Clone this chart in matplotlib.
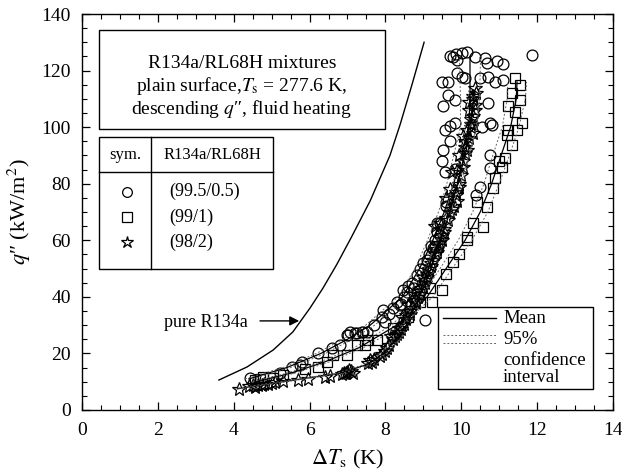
import numpy as np
import matplotlib
matplotlib.use("Agg")
import matplotlib.pyplot as plt
from matplotlib.patches import Rectangle
from matplotlib.lines import Line2D

plt.rcParams['font.family'] = ['Liberation Serif', 'DejaVu Serif']
plt.rcParams['mathtext.fontset'] = 'stix'

# pure R134a curve
pure_x = [3.61, 4.35, 5.04, 5.56, 6.01, 6.35, 6.72, 7.10, 7.60, 8.12, 8.39, 8.70, 9.02]
pure_q = [10.6, 15.2, 21.2, 27.6, 36.0, 43.0, 51.5, 61.0, 74.0, 90.0, 101.0, 115.0, 130.0]

# (99.5/0.5) circles
circ_x = [9.78, 9.89, 10.02, 10.15, 10.36, 10.62, 10.68, 10.94, 11.10, 11.86, 9.70, 9.85,
          9.49, 9.65, 9.89, 10.02, 10.10, 10.49, 10.70, 10.89, 11.10,
          9.65, 9.83, 9.52, 10.70,
          9.57, 9.83, 10.55, 10.81, 10.75, 9.70,
          9.52, 9.57, 9.83, 10.76, 10.76, 9.60, 9.36, 9.44, 9.31, 10.5, 10.4,
          9.10, 9.25, 9.44, 8.83, 8.57, 8.46, 8.30, 8.38, 7.94, 9.04, 7.41, 7.25, 7.01, 7.07,
          6.99, 7.20, 7.38, 7.51, 6.22, 5.80, 5.54, 5.22, 4.43,
          8.1, 8.7, 8.9, 9.0, 9.2, 9.3, 5.75, 6.8, 6.6, 8.0, 8.4, 8.6, 9.35, 9.6, 9.7, 9.5,
          7.9, 8.2, 8.5, 8.75, 7.7, 9.15]
circ_q = [124.8, 123.7, 126.2, 126.5, 124.8, 124.3, 122.7, 123.4, 122.3, 125.5, 125.0, 126.0,
          115.9, 115.9, 119.1, 117.7, 117.3, 117.3, 117.7, 115.9, 116.6,
          111.3, 109.6, 107.5, 108.5,
          99.0, 101.4, 100.0, 100.7, 101.5, 100.5,
          91.9, 84.1, 85.2, 90.1, 85.5, 73.5, 66.1, 66.1, 57.6, 79.0, 76.0,
          53.0, 57.3, 61.9, 47.7, 41.7, 42.4, 38.2, 37.1, 35.3, 31.8, 27.6, 27.2, 26.5, 27.6,
          26.5, 27.2, 27.6, 27.6, 20.1, 17.0, 15.2, 13.1, 11.3,
          34.0, 45.0, 50.0, 52.0, 58.0, 60.0, 16.0, 23.0, 22.0, 31.0, 37.5, 44.0, 63.0, 72.0, 95.0, 88.0,
          33.0, 36.0, 40.0, 43.0, 30.0, 55.0]

# (99/1) squares
sq_x = [11.42, 11.55, 11.34, 11.55, 11.23, 11.42, 11.60, 11.23, 11.47,
        11.20, 11.34, 11.15, 11.07, 10.84, 10.68, 10.41, 10.57, 10.15,
        10.15, 9.78, 9.49, 9.23, 9.17, 8.91,
        7.78, 7.46, 6.99, 6.46, 6.22, 5.88, 4.77, 5.04, 6.62, 7.25, 7.54, 4.55, 4.70, 5.30,
        10.9, 11.0, 10.3, 9.95, 9.6, 8.6, 8.2]
sq_q = [117.4, 114.9, 112.1, 109.6, 107.5, 105.3, 101.4, 99.0, 99.0,
        97.2, 93.7, 89.1, 85.9, 78.5, 71.8, 73.5, 64.7, 61.2,
        60.1, 52.3, 42.4, 38.2, 43.0, 38.2,
        24.7, 23.0, 19.4, 17.0, 15.2, 14.5, 11.7, 11.3, 19.4, 23.0, 24.7, 10.5, 10.8, 12.5,
        82.0, 88.0, 66.0, 55.0, 48.0, 33.0, 29.0]

# (98/2) stars
star_x = [4.15, 4.40, 4.55, 4.65, 4.75, 4.90, 5.10, 5.30, 5.70, 5.95, 6.40, 6.55, 6.90, 7.00,
          7.10, 7.15, 7.55, 7.65, 7.90, 8.00, 8.10, 8.20, 8.30, 8.40, 8.50, 8.55, 8.65, 8.70,
          8.80, 8.85, 8.90, 9.00, 9.05, 9.10, 9.15, 9.20, 9.30, 9.35, 9.40, 9.50, 9.55, 9.45,
          9.60, 9.70, 9.80, 9.90, 9.85, 9.95, 10.00, 9.90, 10.05, 9.95, 10.10, 10.20, 10.15,
          10.25, 10.30, 10.20, 10.35, 10.30, 10.40, 10.35, 10.25, 10.05, 9.75, 9.70, 9.60,
          9.30, 8.45, 8.60, 8.75, 9.00, 9.25, 8.35, 8.15, 10.10, 10.30,
          4.50, 4.80, 5.00, 6.85, 6.95, 7.05, 7.60, 7.70, 7.85, 8.05, 8.25, 8.35, 8.45, 8.55,
          8.65, 8.75, 8.80, 8.95, 9.05, 9.15, 9.25, 9.35, 9.45, 9.55, 9.65, 9.75, 9.85, 9.95,
          10.05, 10.15, 10.25, 10.35, 10.20, 10.30, 10.10, 9.50, 9.40, 9.20, 9.10, 8.90]
star_q = [7.5, 8.5, 8.2, 9.0, 8.7, 9.3, 9.8, 10.1, 10.6, 11.0, 11.7, 12.0, 13.2, 13.5,
          13.8, 13.2, 16.5, 17.0, 19.8, 21.0, 23.0, 25.0, 27.0, 28.5, 30.5, 32.0, 34.0, 36.0,
          38.0, 40.0, 42.0, 44.0, 46.0, 48.0, 50.0, 52.0, 55.0, 57.0, 59.0, 62.0, 64.0, 66.0,
          68.0, 70.0, 72.0, 74.0, 77.0, 80.0, 83.0, 85.0, 88.0, 90.0, 93.0, 96.0, 99.0,
          101.0, 104.0, 106.0, 108.0, 110.0, 112.0, 114.0, 103.0, 97.0, 84.0, 78.0, 75.0,
          65.0, 33.0, 37.0, 41.0, 47.0, 53.0, 29.0, 26.0, 91.0, 98.0,
          8.8, 9.2, 9.5, 12.8, 13.0, 14.0, 17.5, 18.0, 19.0, 22.0, 26.0, 27.5, 30.0, 33.5,
          35.0, 38.5, 39.0, 43.0, 45.0, 49.0, 53.0, 56.0, 61.0, 63.0, 67.0, 71.0, 76.0, 79.0,
          86.0, 92.0, 100.0, 106.0, 109.0, 111.0, 95.0, 60.0, 58.0, 51.0, 47.0, 41.0]

# mean curves
circ_mean_x = [4.4, 5.4, 6.3, 7.0, 7.6, 8.45, 8.9, 9.25, 9.55, 9.8, 10.0, 10.2, 10.23, 10.23]
circ_mean_q = [11, 15, 20, 25, 30, 40, 50, 60, 70, 80, 90, 100, 110, 125]
sq_mean_x = [4.6, 5.5, 6.4, 7.3, 8.3, 9.1, 9.6, 10.1, 10.5, 10.8, 11.05, 11.3, 11.45, 11.47]
sq_mean_q = [10, 13, 17, 22, 30, 40, 50, 60, 70, 80, 90, 100, 110, 116]
star_mean_x = [4.1, 4.8, 5.8, 6.8, 7.5, 7.95, 8.3, 8.55, 8.9, 9.2, 9.45, 9.7, 9.9, 10.1, 10.25, 10.35]
star_mean_q = [7.5, 9, 11, 13, 16, 20, 25, 30, 40, 50, 60, 70, 80, 90, 100, 113]
# 95% confidence half-width (in K)
circ_ci = [0.1, 0.1, 0.12, 0.12, 0.12, 0.12, 0.12, 0.14, 0.15, 0.18, 0.2, 0.22, 0.25, 0.28]
sq_ci = [0.1, 0.1, 0.12, 0.12, 0.14, 0.15, 0.16, 0.18, 0.2, 0.2, 0.22, 0.22, 0.24, 0.25]
star_ci = [0.08, 0.08, 0.08, 0.08, 0.08, 0.08, 0.08, 0.08, 0.08, 0.1, 0.1, 0.1, 0.12, 0.12, 0.14, 0.15]

fig = plt.figure(figsize=(6.22, 4.73), dpi=100)
ax = fig.add_axes([0.1318, 0.1332, 0.8537, 0.8372])

ax.plot(pure_x, pure_q, color='black', lw=1.0)

mk = dict(linestyle='none', markerfacecolor='none', markeredgecolor='black', markeredgewidth=0.9)
ax.plot(circ_x, circ_q, marker='o', markersize=7.8, **mk)
ax.plot(sq_x, sq_q, marker='s', markersize=7, **mk)
ax.plot(star_x, star_q, marker='*', markersize=10, **mk)

for mx, mq, ci in [(circ_mean_x, circ_mean_q, circ_ci),
                   (sq_mean_x, sq_mean_q, sq_ci),
                   (star_mean_x, star_mean_q, star_ci)]:
    mx = np.array(mx)
    ci = np.array(ci)
    ax.plot(mx, mq, color='black', lw=0.9)
    ax.plot(mx - ci, mq, color='#666666', lw=0.7, ls=(0, (2, 2)))
    ax.plot(mx + ci, mq, color='#666666', lw=0.7, ls=(0, (2, 2)))

ax.set_xlim(0, 14)
ax.set_ylim(0, 140)
ax.set_xticks(np.arange(0, 15, 2))
ax.set_yticks(np.arange(0, 141, 20))
ax.set_xticks(np.arange(0, 14.01, 0.5), minor=True)
ax.set_yticks(np.arange(0, 141, 5), minor=True)
ax.tick_params(which='both', direction='in', top=True, right=True, labelsize=14)
ax.tick_params(axis='x', which='major', pad=9)
ax.tick_params(axis='y', which='major', pad=8)
ax.tick_params(which='major', length=6, width=0.9)
ax.tick_params(which='minor', length=3.5, width=0.8)
for s in ax.spines.values():
    s.set_linewidth(1.0)

ax.set_xlabel(r'$\Delta T_\mathrm{s}$ (K)', fontsize=16, labelpad=6)
ax.set_ylabel(r'$q$″ (kW/m$^2$)', fontsize=16, labelpad=6)

# title box
T = ax.transAxes
ax.add_patch(Rectangle((0.032, 0.710), 0.539, 0.250, transform=T, fill=False, lw=1.0, ec='black'))
ax.text(0.301, 0.875, 'R134a/RL68H mixtures', transform=T, ha='center', va='center', fontsize=14)
ax.text(0.301, 0.817, r'plain surface,$T_\mathrm{s}$ = 277.6 K,', transform=T, ha='center', va='center', fontsize=14)
ax.text(0.301, 0.759, r'descending $q$″, fluid heating', transform=T, ha='center', va='center', fontsize=14)

# symbol table
ax.add_patch(Rectangle((0.032, 0.356), 0.328, 0.333, transform=T, fill=False, lw=1.0, ec='black'))
ax.add_line(Line2D([0.130, 0.130], [0.356, 0.689], transform=T, color='black', lw=1.0))
ax.add_line(Line2D([0.032, 0.360], [0.601, 0.601], transform=T, color='black', lw=1.0))
ax.text(0.081, 0.643, 'sym.', transform=T, ha='center', va='center', fontsize=12)
ax.text(0.245, 0.643, 'R134a/RL68H', transform=T, ha='center', va='center', fontsize=12)
for yy, m, ms, lab in [(0.551, 'o', 7, '(99.5/0.5)'), (0.487, 's', 6.5, '(99/1)'), (0.424, '*', 9, '(98/2)')]:
    ax.plot([0.085], [yy], transform=T, marker=m, markersize=ms, **mk)
    ax.text(0.165, yy, lab, transform=T, ha='left', va='center', fontsize=13)

# pure R134a label
ax.text(4.38, 31, 'pure R134a', ha='right', va='center', fontsize=13)
ax.annotate('', xy=(5.8, 31.5), xytext=(4.62, 31.5),
            arrowprops=dict(arrowstyle='-|>', color='black', lw=1.0, mutation_scale=14))

# line legend
ax.add_patch(Rectangle((0.670, 0.053), 0.292, 0.207, transform=T, fill=False, lw=1.0, ec='black'))
ax.add_line(Line2D([0.680, 0.780], [0.232, 0.232], transform=T, color='black', lw=1.0))
ax.add_line(Line2D([0.680, 0.780], [0.189, 0.189], transform=T, color='#666666', lw=0.7, ls=(0, (2, 2))))
ax.add_line(Line2D([0.680, 0.780], [0.169, 0.169], transform=T, color='#666666', lw=0.7, ls=(0, (2, 2))))
ax.text(0.793, 0.232, 'Mean', transform=T, ha='left', va='center', fontsize=13.5)
ax.text(0.793, 0.177, '95%', transform=T, ha='left', va='center', fontsize=13.5)
ax.text(0.793, 0.126, 'confidence', transform=T, ha='left', va='center', fontsize=13.5)
ax.text(0.793, 0.081, 'interval', transform=T, ha='left', va='center', fontsize=13.5)

fig.savefig('out.png', dpi=100)
